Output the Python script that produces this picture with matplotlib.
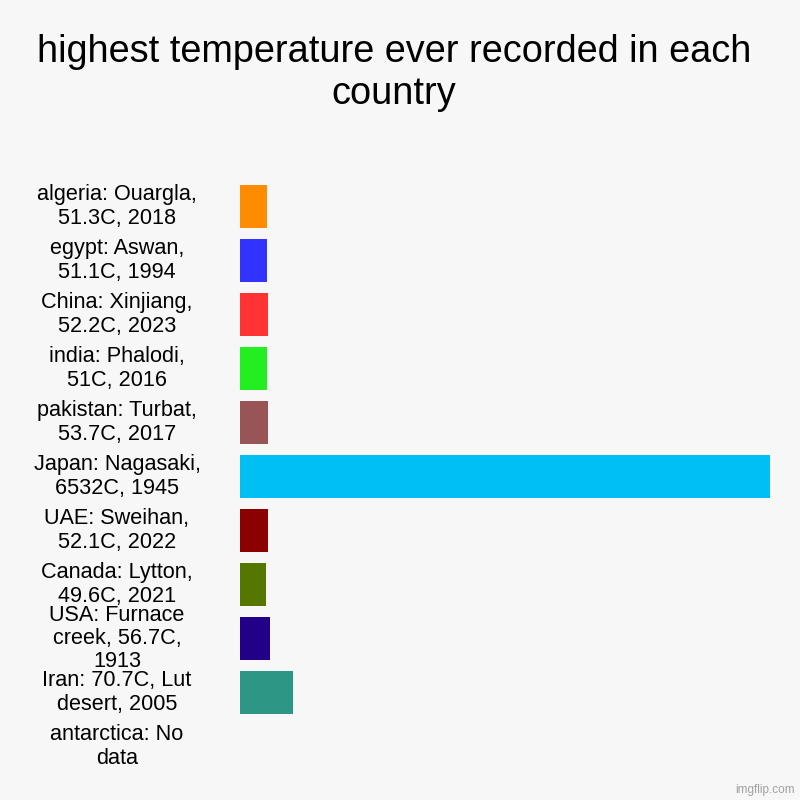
import matplotlib.pyplot as plt

labels = [
    "algeria: Ouargla,\n51.3C, 2018",
    "egypt: Aswan,\n51.1C, 1994",
    "China: Xinjiang,\n52.2C, 2023",
    "india: Phalodi,\n51C, 2016",
    "pakistan: Turbat,\n53.7C, 2017",
    "Japan: Nagasaki,\n6532C, 1945",
    "UAE: Sweihan,\n52.1C, 2022",
    "Canada: Lytton,\n49.6C, 2021",
    "USA: Furnace\ncreek, 56.7C,\n1913",
    "Iran: 70.7C, Lut\ndesert, 2005",
    "antarctica: No\ndata",
]
# values as drawn in the chart (bar lengths)
values = [51.3, 51.1, 52.2, 51, 53.7, 1000, 52.1, 49.6, 56.7, 100, 0]
colors = ["#ff8c00", "#3333ff", "#ff3333", "#22ee22", "#995555", "#00bff3",
          "#8b0000", "#557700", "#220088", "#2d9685", "#999999"]

bg = "#f7f7f7"
plt.rcParams['font.family'] = ['Liberation Sans', 'DejaVu Sans']

fig = plt.figure(figsize=(8, 8), dpi=100, facecolor=bg)
# axes: x 240..770 px, y 179.5..773.5 px
ax = fig.add_axes([240 / 800, 1 - 773.5 / 800, 530 / 800, 594 / 800])
ax.set_facecolor(bg)

ypos = list(range(len(labels)))
ax.barh(ypos, values, height=0.8, color=colors)
ax.set_xlim(0, max(values))
ax.set_ylim(len(labels) - 0.5, -0.5)
ax.set_xticks([])
ax.set_yticks([])
for s in ax.spines.values():
    s.set_visible(False)

# labels centred left of the bars
trans = ax.get_yaxis_transform()
for i, lab in enumerate(labels):
    ax.text(-123 / 530, i, lab, transform=trans, ha='center', va='center',
            multialignment='center', fontsize=15.6, linespacing=1.13,
            color='black')

fig.text(394 / 800, 1 - 73 / 800, "highest temperature ever recorded in each\ncountry",
         ha='center', va='center', fontsize=27.3, linespacing=1.18)

fig.text(795 / 800, 1 - 790 / 800, "imgflip.com", ha='right', va='center',
         fontsize=8.5, color='#a0a0a0')

fig.savefig('out.png', dpi=100, facecolor=bg)
